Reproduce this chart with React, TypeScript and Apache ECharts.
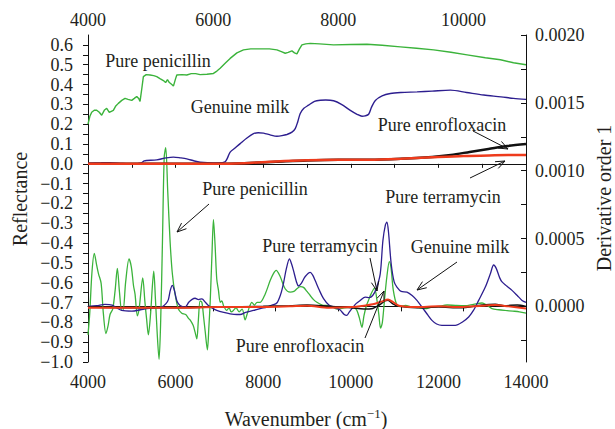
import React, { useEffect, useRef } from "react";
import * as echarts from "echarts";

// ---------- Data ----------
// Reflectance spectra (top axis: wavenumber 4000-11000, left axis: reflectance)
const penicillinReflectance: number[][] = [
  [4000, 0.2], [4030, 0.24], [4059, 0.26], [4100, 0.27], [4139, 0.27], [4180, 0.26], [4219, 0.245],
  [4260, 0.27], [4299, 0.28], [4340, 0.26], [4405, 0.27], [4440, 0.29], [4485, 0.305], [4540, 0.32],
  [4592, 0.33], [4640, 0.325], [4699, 0.32], [4740, 0.33], [4779, 0.34], [4810, 0.33], [4832, 0.315],
  [4860, 0.38], [4885, 0.44], [4930, 0.45], [4992, 0.448], [5050, 0.445], [5099, 0.44], [5150, 0.43],
  [5205, 0.42], [5240, 0.41], [5270, 0.425], [5300, 0.41], [5340, 0.4], [5365, 0.392], [5400, 0.43],
  [5419, 0.448], [5500, 0.45], [5579, 0.448], [5650, 0.455], [5720, 0.455], [5792, 0.45], [5900, 0.452],
  [6005, 0.456], [6060, 0.468], [6112, 0.482], [6200, 0.51], [6272, 0.532], [6380, 0.56], [6485, 0.575],
  [6600, 0.58], [6752, 0.58], [6900, 0.58], [7019, 0.575], [7100, 0.565], [7152, 0.558], [7200, 0.562],
  [7259, 0.57], [7300, 0.56], [7339, 0.555], [7380, 0.58], [7419, 0.6], [7480, 0.605], [7552, 0.608],
  [7700, 0.605], [7925, 0.6], [8200, 0.602], [8459, 0.603], [8700, 0.598], [8992, 0.59], [9250, 0.583],
  [9525, 0.575], [9800, 0.563], [10059, 0.55], [10350, 0.535], [10592, 0.525], [10800, 0.51], [11000, 0.5],
];
const milkReflectance: number[][] = [
  [4000, 0.003], [4200, 0.005], [4352, 0.006], [4550, 0.002], [4725, 0.0], [4850, 0.005], [4900, 0.015],
  [4939, 0.017], [5099, 0.02], [5250, 0.03], [5365, 0.034], [5480, 0.03], [5579, 0.025], [5700, 0.014],
  [5792, 0.008], [6005, 0.004], [6150, 0.006], [6192, 0.01], [6230, 0.03], [6272, 0.059], [6350, 0.08],
  [6432, 0.102], [6540, 0.13], [6645, 0.152], [6720, 0.157], [6805, 0.155], [6920, 0.145], [7019, 0.139],
  [7100, 0.142], [7179, 0.148], [7260, 0.16], [7312, 0.178], [7350, 0.21], [7392, 0.254], [7450, 0.28],
  [7525, 0.296], [7620, 0.315], [7712, 0.321], [7800, 0.322], [7925, 0.318], [8050, 0.3], [8192, 0.27],
  [8300, 0.25], [8379, 0.24], [8430, 0.242], [8485, 0.25], [8530, 0.285], [8592, 0.32], [8700, 0.343],
  [8832, 0.355], [9000, 0.36], [9259, 0.363], [9500, 0.367], [9792, 0.372], [10050, 0.36], [10325, 0.347],
  [10600, 0.338], [10800, 0.33], [11000, 0.325],
];
const enrofloxacinReflectance: number[][] = [
  [4000, 0.0], [5000, 0.0], [6000, 0.0], [6500, 0.003], [7000, 0.01], [7500, 0.017], [8000, 0.02],
  [8500, 0.02], [9000, 0.025], [9500, 0.035], [9800, 0.045], [10100, 0.06], [10400, 0.075], [10700, 0.09],
  [11000, 0.1],
];
const terramycinReflectance: number[][] = [
  [4000, 0.0], [5000, 0.0], [6000, 0.0], [6500, 0.003], [7000, 0.012], [7500, 0.018], [8000, 0.02],
  [8500, 0.02], [9000, 0.025], [9500, 0.033], [10000, 0.04], [10500, 0.043], [11000, 0.045],
];

// First derivative (bottom axis: wavenumber 4000-14000, right axis), values in units of 1e-4
const penicillinDerivE4: number[][] = [
  [4000, -2.1], [4040, -0.5], [4090, 2.5], [4144, 3.9], [4200, 3.0], [4240, 2.4], [4300, 1.7], [4350, -0.5],
  [4410, -2.0], [4460, -1.4], [4503, -0.6], [4564, -0.2], [4620, 1.2], [4670, 2.8], [4720, 1.0], [4769, -0.3],
  [4800, -0.3], [4860, 1.8], [4937, 3.5], [4990, 2.9], [5040, 1.5], [5074, 0.9], [5127, -0.7], [5170, -0.1],
  [5250, 2.1], [5300, 0.3], [5340, -1.0], [5378, -2.1], [5430, -0.5], [5470, 1.5], [5501, 2.6], [5540, 0.5],
  [5580, -2.0], [5622, -3.9], [5660, -1.0], [5700, 4.8], [5740, 11.0], [5775, 11.7], [5820, 8.5], [5874, 4.8],
  [5926, 2.4], [5988, 0.9], [6064, -0.2], [6141, -0.5], [6230, -0.6], [6300, -0.9], [6331, -1.0], [6400, -1.4],
  [6445, -1.9], [6484, -2.4], [6520, -1.0], [6559, 0.4], [6600, 0.3], [6640, -0.8], [6674, -1.8], [6726, -3.2],
  [6760, -1.5], [6788, 0.2], [6830, 3.8], [6864, 6.4], [6900, 4.6], [6940, 2.0], [6978, 1.2], [7020, 0.3],
  [7055, 0.4], [7100, 0.0], [7169, -0.3], [7220, -0.1], [7270, -0.4], [7320, -0.3], [7380, -0.1], [7450, -0.4],
  [7520, -0.2], [7587, -1.0], [7630, -0.6], [7690, 0.0], [7740, 0.3], [7800, 0.1], [7860, 0.3], [7930, 0.3],
  [8044, 0.9], [8159, 1.9], [8230, 2.4], [8296, 2.65], [8387, 2.2], [8501, 1.3], [8616, 1.05], [8700, 1.1],
  [8769, 1.3], [8850, 1.45], [8920, 1.4], [9000, 1.1], [9073, 0.8], [9150, 0.5], [9226, 0.3], [9350, 0.1],
  [9454, 0.07], [9550, 0.0], [9683, -0.2], [9800, -0.15], [9987, -0.05], [10080, -0.1], [10140, -0.3],
  [10200, -0.9], [10254, -1.55], [10300, -0.7], [10360, 0.1], [10405, 0.45], [10460, 0.9], [10540, 1.35],
  [10600, 0.4], [10640, -0.6], [10680, -1.6], [10720, -1.2], [10770, 0.5], [10824, 2.2], [10880, 3.3],
  [10920, 2.8], [10970, 1.2], [11053, 0.1], [11150, 0.0], [11244, 0.07], [11400, -0.05], [11550, -0.1],
  [11701, -0.17], [11850, -0.05], [12000, 0.0], [12200, 0.1], [12386, 0.07], [12600, 0.05], [12800, 0.15],
  [12996, 0.25], [13100, 0.1], [13224, -0.17], [13380, -0.25], [13528, -0.3], [13700, -0.35], [13850, -0.4],
  [14000, -0.5],
];
const milkDerivE4: number[][] = [
  [4000, 0.0], [4200, 0.05], [4388, 0.15], [4550, 0.1], [4650, -0.1], [4769, -0.3], [5000, -0.35],
  [5200, -0.25], [5341, -0.17], [5550, -0.1], [5684, -0.05], [5780, 0.2], [5835, 0.5], [5880, 1.2],
  [5926, 1.55], [5970, 1.2], [6030, 0.4], [6102, 0.07], [6216, -0.05], [6300, 0.3], [6369, 0.5], [6445, 0.6],
  [6520, 0.5], [6600, 0.55], [6680, 0.3], [6749, 0.07], [6850, -0.15], [6940, -0.3], [7100, -0.45],
  [7245, -0.55], [7400, -0.6], [7473, -0.6], [7600, -0.45], [7778, -0.3], [7950, -0.15], [8083, -0.05],
  [8200, 0.1], [8311, 0.25], [8400, 0.9], [8463, 1.7], [8530, 2.8], [8600, 3.5], [8650, 3.1], [8691, 2.65],
  [8760, 1.8], [8806, 1.5], [8870, 1.7], [8960, 2.2], [9073, 2.5], [9130, 2.3], [9187, 1.9], [9280, 1.2],
  [9378, 0.57], [9500, 0.1], [9607, -0.05], [9750, -0.25], [9850, -0.6], [9911, -0.66], [9960, -0.45],
  [10025, -0.17], [10120, 0.2], [10216, 0.44], [10330, 0.68], [10420, 0.65], [10500, 0.8], [10580, 1.3],
  [10672, 2.4], [10733, 4.85], [10790, 6.0], [10824, 6.2], [10860, 5.5], [10920, 3.2], [10990, 1.8],
  [11053, 1.42], [11150, 1.1], [11282, 1.05], [11400, 0.8], [11510, 0.44], [11625, -0.05], [11750, -0.6],
  [11853, -1.03], [11960, -1.3], [12081, -1.4], [12250, -1.4], [12386, -1.4], [12550, -1.15], [12691, -0.78],
  [12800, -0.3], [12919, 0.44], [13071, 1.42], [13186, 2.4], [13262, 3.05], [13320, 2.8], [13400, 2.1],
  [13453, 1.8], [13560, 1.5], [13681, 1.18], [13800, 0.8], [13910, 0.44], [14000, 0.3],
];
const enrofloxacinDerivE4: number[][] = [
  [4000, -0.05], [5000, -0.1], [6000, -0.1], [7000, -0.05], [8000, 0.0], [8600, 0.05], [9000, 0.1],
  [9500, 0.0], [10000, -0.1], [10300, -0.2], [10500, -0.15], [10650, 0.1], [10780, 0.4], [10850, 0.45],
  [10950, 0.2], [11100, 0.0], [11500, -0.1], [12000, -0.05], [12500, -0.1], [13000, 0.1], [13300, 0.15],
  [13500, 0.05], [13800, 0.1], [14000, 0.0],
];
const terramycinDerivE4: number[][] = [
  [4000, -0.1], [5000, -0.1], [6000, -0.1], [7000, -0.05], [8000, -0.05], [8600, 0.0], [9000, 0.05],
  [9500, -0.1], [10000, -0.05], [10300, 0.05], [10500, 0.15], [10700, 0.35], [10850, 0.5], [10950, 0.35],
  [11100, 0.05], [11500, -0.05], [12000, 0.0], [12500, -0.05], [13000, 0.05], [13300, 0.1], [13600, 0.0],
  [14000, -0.15],
];

// Tick values
const bottomLabels = [4000, 6000, 8000, 10000, 12000, 14000];
const bottomTicks = [4000, 5000, 6000, 7000, 8000, 9000, 10000, 11000, 12000, 13000, 14000];
const topLabels = [4000, 6000, 8000, 10000];
const topTicks = [4000, 5000, 6000, 7000, 8000, 9000, 10000];
const leftLabelsTenths = [-10, -9, -8, -7, -6, -5, -4, -3, -2, -1, 0, 1, 2, 3, 4, 5, 6];
const rightLabels = [0, 0.0005, 0.001, 0.0015, 0.002];
const rightTicks = [-0.00025, 0, 0.00025, 0.0005, 0.00075, 0.001, 0.00125, 0.0015, 0.00175, 0.002];

const GREEN = "#3bb33b";
const BLUE = "#2d1e8f";
const RED = "#ee3b1c";
const BLACK = "#111111";
const TEXT = "#231f20";
const FONT = "Liberation Serif";

function arrow(x1: number, y1: number, x2: number, y2: number) {
  const a = Math.atan2(y2 - y1, x2 - x1);
  const L = 10;
  const w = 0.38;
  return [
    { type: "line", z: 100, shape: { x1, y1, x2, y2 }, style: { stroke: BLACK, lineWidth: 1 } },
    {
      type: "polyline",
      z: 100,
      shape: {
        points: [
          [x2 - L * Math.cos(a - w), y2 - L * Math.sin(a - w)],
          [x2, y2],
          [x2 - L * Math.cos(a + w), y2 - L * Math.sin(a + w)],
        ],
      },
      style: { stroke: BLACK, fill: null, lineWidth: 1 },
    },
  ];
}

function label(text: string, x: number, y: number) {
  return {
    type: "text",
    z: 100,
    x,
    y,
    style: { text, fontSize: 18, fontFamily: FONT, fill: TEXT, align: "center", verticalAlign: "middle" },
  };
}

export default function App() {
  const ref = useRef<HTMLDivElement>(null);

  useEffect(() => {
    if (!ref.current) return;
    const chart = echarts.init(ref.current, null, { renderer: "svg" });
    const e4 = (arr: number[][]) => arr.map(([x, y]) => [x, y * 1e-4]);
    const axisLine = { show: true, lineStyle: { color: BLACK, width: 1 } };
    const labelStyle = { fontSize: 18, fontFamily: FONT, color: TEXT };

    const option: any = {
      animation: false,
      backgroundColor: "#ffffff",
      textStyle: { fontFamily: FONT },
      grid: { left: 88, right: 89, top: 35, bottom: 67 },
      xAxis: [
        {
          type: "value",
          position: "bottom",
          min: 4000,
          max: 14000,
          axisLine,
          splitLine: { show: false },
          axisTick: { show: true, inside: false, length: 4, customValues: bottomTicks, lineStyle: { color: BLACK } },
          axisLabel: { ...labelStyle, margin: 11, customValues: bottomLabels, formatter: (v: number) => String(v) },
        },
        {
          type: "value",
          position: "top",
          min: 4000,
          max: 11000,
          axisLine,
          splitLine: { show: false },
          axisTick: { show: true, inside: true, length: 5, customValues: topTicks, lineStyle: { color: BLACK } },
          axisLabel: { ...labelStyle, margin: 6, customValues: topLabels, formatter: (v: number) => String(v) },
        },
      ],
      yAxis: [
        {
          type: "value",
          position: "left",
          min: -1.0,
          max: 0.65,
          axisLine,
          splitLine: { show: false },
          axisTick: {
            show: true,
            inside: false,
            length: 5,
            customValues: Array.from({ length: 33 }, (_, i) => (-100 + i * 5) / 100),
            lineStyle: { color: BLACK },
          },
          axisLabel: {
            ...labelStyle,
            margin: 15,
            customValues: leftLabelsTenths.map((t) => t / 10),
            formatter: (v: number) => {
              const s = Math.abs(v).toFixed(1);
              return v < -1e-9 ? "\u2212" + s : s;
            },
          },
        },
        {
          type: "value",
          position: "right",
          min: -0.00041,
          max: 0.002,
          axisLine,
          splitLine: { show: false },
          axisTick: { show: true, inside: true, length: 5, customValues: rightTicks, lineStyle: { color: BLACK } },
          axisLabel: { ...labelStyle, margin: 9, customValues: rightLabels, formatter: (v: number) => v.toFixed(4) },
        },
      ],
      series: [
        {
          type: "line", name: "Pure penicillin (derivative)", xAxisIndex: 0, yAxisIndex: 1,
          data: e4(penicillinDerivE4), showSymbol: false, symbol: "none", smooth: 0.3,
          lineStyle: { color: GREEN, width: 1.3 }, z: 3,
        },
        {
          type: "line", name: "Genuine milk (derivative)", xAxisIndex: 0, yAxisIndex: 1,
          data: e4(milkDerivE4), showSymbol: false, symbol: "none", smooth: 0.3,
          lineStyle: { color: BLUE, width: 1.3 }, z: 4,
        },
        {
          type: "line", name: "Pure enrofloxacin (derivative)", xAxisIndex: 0, yAxisIndex: 1,
          data: e4(enrofloxacinDerivE4), showSymbol: false, symbol: "none", smooth: 0.3,
          lineStyle: { color: BLACK, width: 1.5 }, z: 5,
        },
        {
          type: "line", name: "Pure terramycin (derivative)", xAxisIndex: 0, yAxisIndex: 1,
          data: e4(terramycinDerivE4), showSymbol: false, symbol: "none", smooth: 0.3,
          lineStyle: { color: RED, width: 2 }, z: 6,
        },
        {
          type: "line", name: "Pure penicillin", xAxisIndex: 1, yAxisIndex: 0,
          data: penicillinReflectance, showSymbol: false, symbol: "none",
          lineStyle: { color: GREEN, width: 1.4 }, z: 3,
        },
        {
          type: "line", name: "Genuine milk", xAxisIndex: 1, yAxisIndex: 0,
          data: milkReflectance, showSymbol: false, symbol: "none", smooth: 0.3,
          lineStyle: { color: BLUE, width: 1.4 }, z: 4,
        },
        {
          type: "line", name: "Pure enrofloxacin", xAxisIndex: 1, yAxisIndex: 0,
          data: enrofloxacinReflectance, showSymbol: false, symbol: "none", smooth: 0.3,
          lineStyle: { color: BLACK, width: 2.5 }, z: 5,
        },
        {
          type: "line", name: "Pure terramycin", xAxisIndex: 1, yAxisIndex: 0,
          data: terramycinReflectance, showSymbol: false, symbol: "none", smooth: 0.3,
          lineStyle: { color: RED, width: 2.5 }, z: 6,
        },
      ],
      graphic: [
        label("Pure penicillin", 158, 61),
        label("Genuine milk", 240, 107),
        label("Pure penicillin", 255, 189),
        label("Pure enrofloxacin", 442, 125),
        label("Pure terramycin", 443, 197),
        label("Pure terramycin", 320, 246),
        label("Genuine milk", 460, 247),
        label("Pure enrofloxacin", 300, 346),
        ...arrow(209, 204, 177, 232),
        ...arrow(473, 131, 508, 149),
        ...arrow(470, 178, 505, 161),
        ...arrow(370, 258, 377, 291),
        ...arrow(365, 338, 384, 291),
        ...arrow(457, 262, 417, 290),
        {
          type: "text", z: 100, x: 20, y: 199, rotation: Math.PI / 2,
          style: { text: "Reflectance", fontSize: 20, fontFamily: FONT, fill: TEXT, align: "center", verticalAlign: "middle" },
        },
        {
          type: "text", z: 100, x: 604, y: 198, rotation: Math.PI / 2,
          style: { text: "Derivative order 1", fontSize: 20, fontFamily: FONT, fill: TEXT, align: "center", verticalAlign: "middle" },
        },
        {
          type: "text", z: 100, x: 306, y: 419,
          style: {
            text: "Wavenumber (cm{sup|\u22121})",
            fontSize: 20, fontFamily: FONT, fill: TEXT, align: "center", verticalAlign: "middle",
            rich: { sup: { fontSize: 13, fontFamily: FONT, fill: TEXT, padding: [0, 0, 12, 0] } },
          },
        },
      ],
    };
    chart.setOption(option);
    return () => chart.dispose();
  }, []);

  return <div ref={ref} style={{ position: "fixed", left: 0, top: 0, width: 615, height: 429 }} />;
}
